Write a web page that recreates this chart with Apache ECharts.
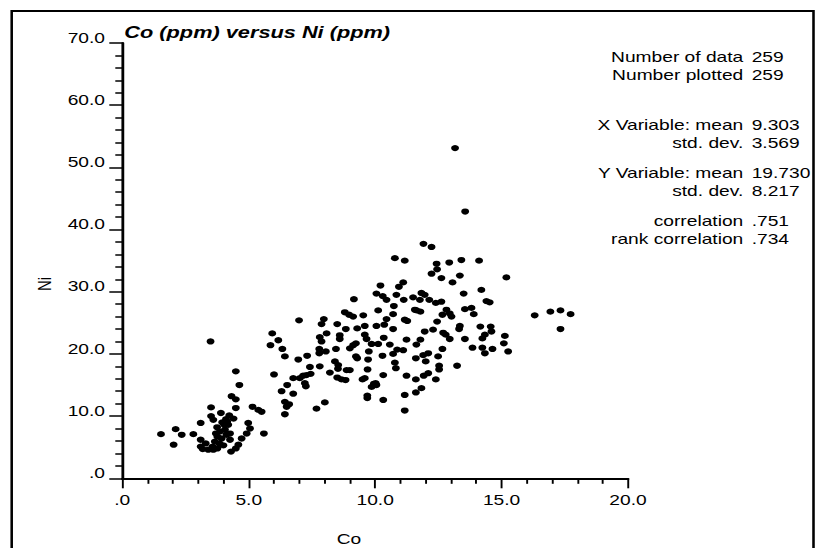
<!DOCTYPE html>
<html>
<head>
<meta charset="utf-8">
<script src="https://cdn.jsdelivr.net/npm/echarts@6/dist/echarts.min.js"></script>
<style>
html,body{margin:0;padding:0;background:#fff;overflow:hidden;width:824px;height:548px;}
#c{position:absolute;left:0;top:0;width:644px;height:548px;transform:scaleX(1.279503);transform-origin:0 0;}
</style>
</head>
<body>
<div id="c"></div>
<script>
// ---- data (Co, Ni) ----
const lowCluster = [
[1.53,7.1],[2.11,7.9],[2.35,7.0],[2.03,5.4],[2.81,7.1],[3.10,8.9],[3.10,6.2],[3.10,5.1],[3.18,4.7],[3.40,4.6],
[3.60,4.6],[3.76,4.8],[3.57,5.1],[3.51,11.4],[3.51,10.0],[3.60,9.4],[3.90,10.5],[4.23,10.1],[4.10,9.5],[4.03,8.6],
[4.19,8.6],[4.06,7.8],[3.86,7.5],[3.76,6.7],[3.93,6.4],[4.12,7.0],[4.26,6.2],[3.66,5.9],[3.84,5.6],[4.26,7.2],
[3.95,9.0],[4.15,9.1],[3.75,8.2],[3.70,7.2],[4.32,13.2],[4.49,12.7],[4.63,15.0],[4.49,17.2],[4.49,11.3],[4.98,8.9],
[5.05,8.0],[4.92,7.2],[4.72,6.4],[4.59,5.4],[4.49,4.8],[4.30,4.3],[5.15,11.5],[5.38,11.0],[5.51,10.7],[5.60,7.2],
[3.49,22.0],[4.40,9.6],[4.00,5.3],[3.30,5.6]
];
const midCluster = [
[10.78,35.4],[11.17,35.0],[10.21,31.0],[10.94,30.8],[11.11,31.5],[10.05,29.7],[10.45,28.7],[10.30,29.3],[10.84,29.5],[11.13,28.7],
[9.16,28.8],[10.74,27.7],[10.12,27.0],[10.71,26.4],[8.80,26.7],[8.97,26.3],[9.53,26.2],[9.13,26.0],[6.99,25.4],[7.97,25.6],
[7.88,24.8],[8.50,24.8],[10.45,25.6],[10.36,24.7],[10.05,24.5],[11.17,25.5],[10.71,24.0],[8.84,24.0],[9.29,24.1],[9.59,24.5],
[5.93,23.3],[6.17,22.2],[5.86,21.4],[6.33,20.8],[6.43,19.6],[6.00,16.7],[6.96,19.1],[7.31,19.7],[7.81,22.7],[7.88,22.0],
[8.08,23.3],[8.60,23.0],[8.60,22.4],[7.79,20.8],[7.79,20.1],[8.05,20.4],[8.45,20.8],[9.00,20.9],[9.13,21.4],[9.24,21.7],
[9.59,23.1],[9.66,22.4],[9.86,21.6],[10.12,21.6],[10.34,22.6],[10.58,21.5],[10.87,20.7],[11.11,20.6],[11.24,22.3],[9.75,20.4],
[9.29,19.3],[9.24,19.6],[8.41,18.8],[8.54,18.2],[9.00,17.4],[8.87,17.4],[9.72,19.1],[9.70,17.5],[10.29,19.7],[10.71,20.0],
[10.78,18.6],[10.82,17.7],[7.42,17.9],[7.81,18.0],[8.21,17.0],[7.28,16.6],[7.15,16.5],[7.02,16.1],[6.76,16.1],[7.45,16.8],
[7.22,15.3],[7.26,14.8],[6.52,15.0],[6.76,13.6],[6.30,14.0],[6.43,12.3],[6.60,11.9],[6.50,11.5],[6.43,10.3],[7.68,11.2],
[8.01,12.2],[8.50,16.2],[8.83,15.8],[9.59,16.1],[9.95,15.2],[10.05,15.0],[9.86,14.7],[10.32,16.6],[9.69,13.3],[9.69,12.9],
[10.32,12.6],[11.17,13.4],[11.24,16.5],[11.17,10.9],[11.27,25.3],[11.64,27.0],[8.53,17.6],[8.67,15.9],[9.50,15.9],[10.02,15.3]
];
const highCluster = [
[11.91,37.7],[12.23,37.2],[12.43,34.5],[12.93,34.7],[13.41,35.1],[14.11,35.0],[12.45,33.6],[12.23,32.9],[12.62,32.2],[13.35,32.6],
[13.06,31.5],[15.19,32.3],[13.50,29.7],[14.20,30.3],[11.50,29.1],[11.83,29.8],[11.96,29.5],[11.77,28.7],[12.14,28.7],[12.40,28.2],
[12.62,28.4],[14.40,28.5],[14.53,28.3],[13.55,27.2],[13.81,27.4],[13.90,26.4],[11.57,27.1],[11.79,26.8],[12.82,27.1],[12.95,26.5],
[12.66,26.3],[13.02,26.0],[12.45,25.2],[16.31,26.2],[16.93,26.8],[17.33,27.0],[17.73,26.4],[17.33,24.0],[11.96,23.6],[12.29,23.9],
[12.69,23.4],[12.79,23.1],[12.95,22.4],[13.35,24.5],[13.32,24.0],[14.16,24.4],[14.57,24.4],[14.60,23.6],[14.34,23.1],[14.24,22.5],
[13.55,22.4],[15.13,22.9],[15.09,21.7],[15.26,20.4],[13.85,21.0],[14.24,21.0],[14.34,20.1],[14.64,20.8],[12.66,20.8],[11.79,22.3],
[11.63,21.5],[11.90,19.8],[12.10,20.1],[11.61,19.3],[12.00,18.8],[12.49,19.6],[12.53,18.1],[12.53,17.5],[13.24,18.1],[11.61,15.9],
[11.92,16.5],[12.10,16.9],[12.40,15.9],[11.83,14.5],[11.61,13.8],[13.16,53.1],[13.56,42.9]
];
const xTickValues = [0, 5, 10, 15, 20];
const xTickLabels = ['.0', '5.0', '10.0', '15.0', '20.0'];
const yTickValues = [0, 10, 20, 30, 40, 50, 60, 70];
const yTickLabels = ['.0', '10.0', '20.0', '30.0', '40.0', '50.0', '60.0', '70.0'];
const titleText = 'Co (ppm) versus Ni (ppm)';
const xName = 'Co';
const yName = 'Ni';
const statLabels = ['Number of data', 'Number plotted', 'X Variable: mean', 'std. dev.', 'Y Variable: mean', 'std. dev.', 'correlation', 'rank correlation'];
const statValues = ['259', '259', '9.303', '3.569', '19.730', '8.217', '.751', '.734'];

// ---- layout (page pixels, container is stretched horizontally by S) ----
const S = 824 / 644;
const px = v => v / S;
const FONT = "'Liberation Sans', Arial, Helvetica, sans-serif";
const statRowY = [57, 74.5, 124.5, 142.8, 172.8, 191.2, 221.2, 238.5];

const chart = echarts.init(document.getElementById('c'), null, {renderer: 'svg', width: 644, height: 548});

const graphics = [
  {type: 'rect', shape: {x: px(11.7), y: 11, width: px(813.5) - px(11.7), height: 580},
   style: {fill: 'none', stroke: '#000', lineWidth: 2}, silent: true},
  {type: 'text', x: px(124.3), y: 31.5, style: {text: titleText, x: 0, y: 0, fill: '#000',
   font: "italic bold 17px " + FONT, textAlign: 'left', align: 'left', textVerticalAlign: 'middle', verticalAlign: 'middle'}},
  {type: 'text', x: px(349), y: 538.5, style: {text: xName, x: 0, y: 0, fill: '#000',
   font: "15px " + FONT, textAlign: 'center', align: 'center', textVerticalAlign: 'middle', verticalAlign: 'middle'}},
  {type: 'text', x: px(44.7), y: 284, rotation: Math.PI / 2, style: {text: yName, x: 0, y: 0, fill: '#000',
   font: "15px " + FONT, textAlign: 'center', align: 'center', textVerticalAlign: 'middle', verticalAlign: 'middle'}}
];
statLabels.forEach((t, i) => {
  graphics.push({type: 'text', x: px(743.3), y: statRowY[i], style: {text: t, x: 0, y: 0, fill: '#000',
    font: "15px " + FONT, textAlign: 'right', align: 'right', textVerticalAlign: 'middle', verticalAlign: 'middle'}});
  graphics.push({type: 'text', x: px(751.7), y: statRowY[i], style: {text: statValues[i], x: 0, y: 0, fill: '#000',
    font: "15px " + FONT, textAlign: 'left', align: 'left', textVerticalAlign: 'middle', verticalAlign: 'middle'}});
});

const axisCommon = {
  type: 'value',
  splitLine: {show: false},
  minorSplitLine: {show: false},
  axisLine: {show: true, onZero: false, lineStyle: {color: '#000', width: 2.2}},
};

chart.setOption({
  animation: false,
  backgroundColor: '#fff',
  grid: {left: px(122.3), right: 644 - px(628), top: 43, bottom: 548 - 478.3, containLabel: false},
  xAxis: Object.assign({}, axisCommon, {
    min: 0, max: 20, interval: 5,
    axisTick: {show: true, inside: false, length: 10, lineStyle: {color: '#000', width: 1.5}},
    minorTick: {show: true, splitNumber: 5, length: 5.5, lineStyle: {color: '#000', width: 1.5}},
    axisLabel: {margin: 14, color: '#000', fontSize: 15, fontFamily: FONT,
      formatter: v => xTickLabels[xTickValues.indexOf(v)]}
  }),
  yAxis: Object.assign({}, axisCommon, {
    min: 0, max: 70, interval: 10,
    axisTick: {show: true, inside: false, length: px(13), lineStyle: {color: '#000', width: 1.5}},
    minorTick: {show: true, splitNumber: 5, length: px(7), lineStyle: {color: '#000', width: 1.5}},
    axisLabel: {margin: px(17.3), color: '#000', fontSize: 15, fontFamily: FONT, verticalAlign: 'bottom', lineHeight: 11,
      formatter: v => yTickLabels[yTickValues.indexOf(v)]}
  }),
  graphic: graphics,
  series: [{
    type: 'scatter',
    symbol: 'circle',
    symbolSize: 6.2,
    itemStyle: {color: '#000', opacity: 1},
    emphasis: {disabled: true},
    data: lowCluster.concat(midCluster, highCluster)
  }]
});
</script>
</body>
</html>
